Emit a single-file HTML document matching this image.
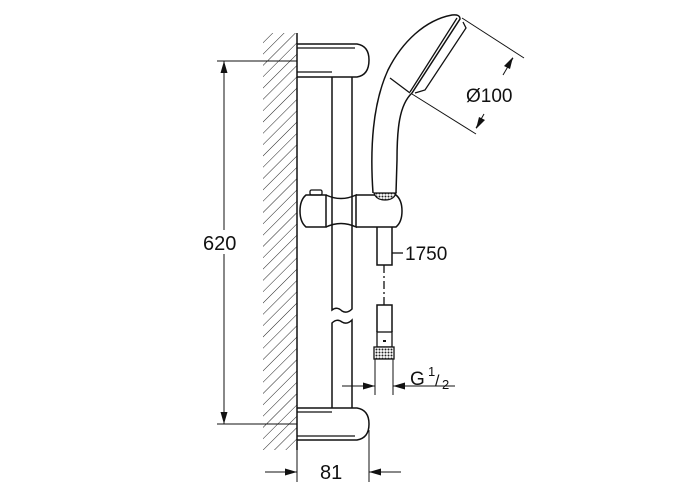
<!DOCTYPE html>
<html><head><meta charset="utf-8"><style>
html,body{margin:0;padding:0;background:#fff;width:700px;height:500px;overflow:hidden}
svg text{font-family:"Liberation Sans",sans-serif;fill:#111}
</style></head><body>
<svg width="700" height="500" viewBox="0 0 700 500" xmlns="http://www.w3.org/2000/svg">
<defs>
<pattern id="h" width="8" height="8" patternUnits="userSpaceOnUse" patternTransform="rotate(45)">
<line x1="0" y1="0" x2="0" y2="8" stroke="#222" stroke-width="1"/></pattern>
<pattern id="k" width="3" height="3" patternUnits="userSpaceOnUse"><rect width="3" height="3" fill="#fff"/><circle cx="1.5" cy="1.5" r="1" fill="#222"/></pattern>
</defs>
<g fill="none" stroke="#111" stroke-width="1.3">
<rect x="263" y="33" width="34" height="417" fill="url(#h)" stroke="none"/>
<line x1="297" y1="33" x2="297" y2="450" stroke-width="1.5"/>
<path d="M297 44 H357 Q369 46 369 60 Q369 75 357 77 H297" stroke-width="1.5"/>
<line x1="297" y1="48" x2="355" y2="48"/>
<line x1="297" y1="72" x2="332" y2="72"/>
<path d="M332 77 V310 Q337 306 342 311 Q347 314 352 309 V77" stroke-width="1.5"/>
<path d="M332 408 V323 Q337 318 342 322 Q347 325 352 320 V408" stroke-width="1.5"/>
<path d="M297 408 H357 Q369 410 369 424 Q369 438 357 440 H297" stroke-width="1.5"/>
<line x1="297" y1="412" x2="332" y2="412"/>
<line x1="297" y1="436" x2="355" y2="436"/>
<path d="M326 195 H306 Q300 200 300 211 Q300 222 306 227 H326 Z" stroke-width="1.5"/>
<path d="M326 195 Q341 202 356 195 V227 Q341 220 326 227" stroke-width="1.5"/>
<path d="M356 195 H396 Q402 200 402 211 Q402 222 396 227 H356" stroke-width="1.5"/>
<rect x="310" y="190" width="12" height="5" rx="1.5"/>
<path d="M373 193 C370 150 372 105 388 70 C402 42 425 20 452 15 Q460 14 460 19 L412 93 C399 105 397 130 397 160 L396 193" stroke-width="1.5"/>
<line x1="457" y1="18" x2="410" y2="92"/>
<path d="M463 22 L466 28 L425 90 L415 93" />
<line x1="390" y1="78" x2="410" y2="93"/>
<path d="M374 193 H396 Q394 200 385 200 Q376 200 374 193 Z" fill="url(#k)"/>
<path d="M377 227 V265 H392 V227" stroke-width="1.5"/>
<line x1="384" y1="265" x2="384" y2="305" stroke-dasharray="8,3,2,3"/>
<path d="M377 332 V305 H392 V332" stroke-width="1.5"/>
<rect x="377" y="332" width="15" height="15"/>
<rect x="374" y="347" width="20" height="12" fill="url(#k)"/>
<line x1="383" y1="341" x2="386" y2="341" stroke-width="2"/>
<line x1="392" y1="253" x2="403" y2="253"/>
<line x1="217" y1="61" x2="297" y2="61" stroke-width="1"/>
<line x1="217" y1="424" x2="297" y2="424" stroke-width="1"/>
<line x1="224" y1="61" x2="224" y2="424" stroke-width="1"/>
<line x1="462" y1="18" x2="524" y2="58" stroke-width="1"/>
<line x1="412" y1="94" x2="476" y2="134" stroke-width="1"/>
<line x1="513" y1="58" x2="503" y2="75" stroke-width="1"/>
<line x1="476" y1="128" x2="484" y2="114" stroke-width="1"/>
<line x1="375" y1="359" x2="375" y2="395" stroke-width="1"/>
<line x1="393" y1="359" x2="393" y2="395" stroke-width="1"/>
<line x1="342" y1="386" x2="375" y2="386" stroke-width="1"/>
<line x1="393" y1="386" x2="455" y2="386" stroke-width="1"/>
<line x1="297" y1="440" x2="297" y2="482" stroke-width="1"/>
<line x1="369" y1="430" x2="369" y2="482" stroke-width="1"/>
<line x1="265" y1="472" x2="297" y2="472" stroke-width="1"/>
<line x1="369" y1="472" x2="401" y2="472" stroke-width="1"/>
</g>
<g fill="#111">
<path d="M224 61 L220.5 73 L227.5 73 Z"/>
<path d="M224 424 L220.5 412 L227.5 412 Z"/>
<path d="M513 57 L504 66 L510 69 Z"/>
<path d="M476 129 L479 117 L485 120 Z"/>
<path d="M375 386 L363 382.5 L363 389.5 Z"/>
<path d="M393 386 L405 382.5 L405 389.5 Z"/>
<path d="M297 472 L285 468.5 L285 475.5 Z"/>
<path d="M369 472 L381 468.5 L381 475.5 Z"/>
</g>
<rect x="203" y="230" width="42" height="24" fill="#fff"/>
<text x="203" y="250" font-size="20">620</text>
<text x="466" y="102" font-size="19">Ø100</text>
<text x="405" y="260" font-size="19">1750</text>
<text x="410" y="385" font-size="19">G</text>
<text x="428" y="376" font-size="13">1</text>
<text x="435" y="386" font-size="16">/</text>
<text x="442" y="389" font-size="13">2</text>
<text x="320" y="479" font-size="20">81</text>
</svg>
</body></html>
